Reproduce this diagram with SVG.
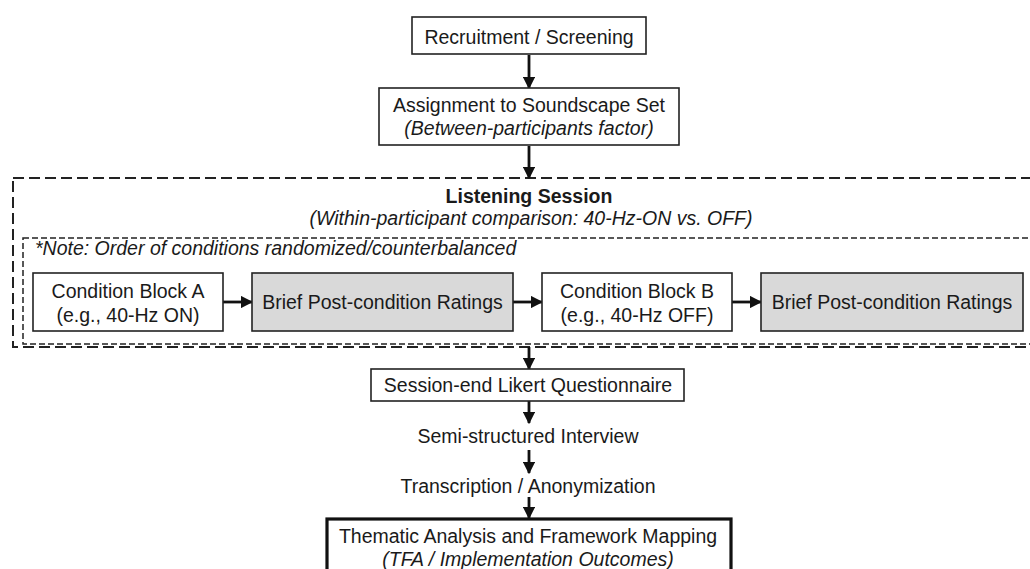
<svg xmlns="http://www.w3.org/2000/svg" width="1030" height="569" viewBox="0 0 1030 569">
<defs>
<style>
text{font-family:"Liberation Sans",Arial,sans-serif;font-size:19.5px;fill:#1a1a1a}
.c{text-anchor:middle}
.i{font-style:italic}
.b{font-weight:bold}
.box{fill:#fff;stroke:#222;stroke-width:1.6}
.grey{fill:#d9d9d9;stroke:#222;stroke-width:1.6}
.thick{fill:#fff;stroke:#111;stroke-width:3.2}
.outer{fill:none;stroke:#222;stroke-width:2;stroke-dasharray:11 5}
.inner{fill:none;stroke:#222;stroke-width:1.5;stroke-dasharray:6 3}
.edge{stroke:#111;stroke-width:2.8;fill:none;marker-end:url(#ah)}
</style>
<marker id="ah" viewBox="0 0 10 10" refX="9" refY="5" markerWidth="4.4" markerHeight="4.4" orient="auto" markerUnits="strokeWidth">
<path d="M0,0 L10,5 L0,10 z" fill="#111"/>
</marker>
</defs>
<rect width="1030" height="569" fill="#fff"/>

<g id="listening-session">
<rect class="outer" x="13" y="178" width="1030" height="169"/>
<text class="c b" x="529" y="203">Listening Session</text>
<text class="c i" x="531" y="225">(Within-participant comparison: 40-Hz-ON vs. OFF)</text>
</g>
<g id="conditions-group">
<rect class="inner" x="23" y="238" width="1020" height="106"/>
<text class="i" x="35" y="255">*Note: Order of conditions randomized/counterbalanced</text>
</g>

<g id="connectors">
<line class="edge" x1="529" y1="55" x2="529" y2="88"/>
<line class="edge" x1="529" y1="146" x2="529" y2="178"/>
<line class="edge" x1="223" y1="302" x2="252" y2="302"/>
<line class="edge" x1="513" y1="302" x2="542" y2="302"/>
<line class="edge" x1="732" y1="302" x2="761" y2="302"/>
<line class="edge" x1="529" y1="347" x2="529" y2="369"/>
<line class="edge" x1="529" y1="401" x2="529" y2="423"/>
<line class="edge" x1="529" y1="450" x2="529" y2="473"/>
<line class="edge" x1="529" y1="497" x2="529" y2="518"/>
</g>

<g id="recruitment">
<rect class="box" x="412" y="17" width="234" height="37"/>
<text class="c" x="529" y="44">Recruitment / Screening</text>
</g>
<g id="assignment">
<rect class="box" x="379" y="88" width="300" height="57"/>
<text class="c" x="529" y="112">Assignment to Soundscape Set</text>
<text class="c i" x="529" y="135">(Between-participants factor)</text>
</g>
<g id="block-a">
<rect class="box" x="33" y="273" width="190" height="58"/>
<text class="c" x="128" y="298">Condition Block A</text>
<text class="c" x="128" y="322">(e.g., 40-Hz ON)</text>
</g>
<g id="ratings-a">
<rect class="grey" x="252" y="273" width="261" height="58"/>
<text class="c" x="382.5" y="309">Brief Post-condition Ratings</text>
</g>
<g id="block-b">
<rect class="box" x="542" y="273" width="190" height="58"/>
<text class="c" x="637" y="298">Condition Block B</text>
<text class="c" x="637" y="322">(e.g., 40-Hz OFF)</text>
</g>
<g id="ratings-b">
<rect class="grey" x="761" y="273" width="262" height="58"/>
<text class="c" x="892" y="309">Brief Post-condition Ratings</text>
</g>
<g id="likert">
<rect class="box" x="371" y="369" width="313" height="32"/>
<text class="c" x="528" y="392">Session-end Likert Questionnaire</text>
</g>
<g id="interview">
<text class="c" x="528" y="443">Semi-structured Interview</text>
</g>
<g id="transcription">
<text class="c" x="528" y="493">Transcription / Anonymization</text>
</g>
<g id="thematic">
<rect class="thick" x="327" y="519" width="404" height="60"/>
<text class="c" x="528" y="543">Thematic Analysis and Framework Mapping</text>
<text class="c i" x="528" y="566">(TFA / Implementation Outcomes)</text>
</g>
</svg>
